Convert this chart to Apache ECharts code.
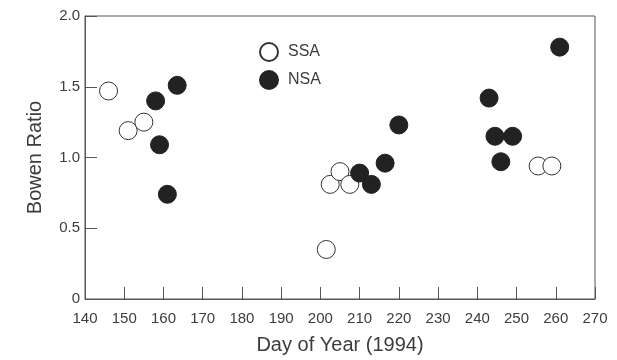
<!DOCTYPE html>
<html>
<head>
<meta charset="utf-8">
<script src="https://cdn.jsdelivr.net/npm/echarts@6/dist/echarts.min.js"></script>
<style>
  html, body { margin: 0; padding: 0; background: #fff; }
  #chart { width: 617px; height: 360px; }
</style>
</head>
<body>
<div id="chart"></div>
<script>
// day of year / bowen ratio
const ssaDays = [146, 151, 155, 201.5, 202.5, 205, 207.5, 255.5, 259]
const ssaRatio = [1.47, 1.19, 1.25, 0.35, 0.81, 0.90, 0.81, 0.94, 0.94]
const nsaDays = [158, 159, 161, 163.5, 210, 213, 216.5, 220, 243, 244.5, 249, 246, 261]
const nsaRatio = [1.40, 1.09, 0.74, 1.51, 0.89, 0.81, 0.96, 1.23, 1.42, 1.15, 1.15, 0.97, 1.78]

const toPairs = (xs, ys) => xs.map((x, i) => [x, ys[i]])

const ink = '#3c3c3c'
const lineCol = '#555'
const font = "'Liberation Sans', Arial, sans-serif"

const chart = echarts.init(document.getElementById('chart'), null, { renderer: 'canvas' })

chart.setOption({
  backgroundColor: '#fff',
  animation: false,
  textStyle: { fontFamily: font },
  grid: {
    left: 85,
    right: 22,
    top: 16,
    bottom: 59,
    show: true,
    borderColor: lineCol,
    borderWidth: 1
  },
  legend: {
    orient: 'vertical',
    left: 254,
    top: 37,
    itemWidth: 18,
    itemHeight: 18,
    itemGap: 8,
    textStyle: { color: ink, fontSize: 16, fontFamily: font, padding: [0, 0, 0, 5] },
    data: ['SSA', 'NSA']
  },
  xAxis: {
    type: 'value',
    min: 140,
    max: 270,
    interval: 10,
    name: 'Day of Year (1994)',
    nameLocation: 'middle',
    nameGap: 36,
    nameTextStyle: { color: ink, fontSize: 20 },
    axisLine: { lineStyle: { color: lineCol } },
    axisTick: { inside: true, length: 12, lineStyle: { color: lineCol } },
    axisLabel: { color: ink, fontSize: 15, margin: 12 },
    splitLine: { show: false }
  },
  yAxis: {
    type: 'value',
    min: 0,
    max: 2,
    interval: 0.5,
    name: 'Bowen Ratio',
    nameLocation: 'middle',
    nameGap: 40,
    nameTextStyle: { color: ink, fontSize: 20 },
    axisLine: { show: true, lineStyle: { color: lineCol } },
    axisTick: { show: true, inside: true, length: 12, lineStyle: { color: lineCol } },
    axisLabel: {
      color: ink,
      fontSize: 15,
      margin: 5,
      formatter: (v) => v === 0 ? '0' : v.toFixed(1)
    },
    splitLine: { show: false }
  },
  series: [
    {
      name: 'SSA',
      type: 'scatter',
      symbol: 'circle',
      symbolSize: 18,
      data: toPairs(ssaDays, ssaRatio),
      itemStyle: { color: '#fff', borderColor: '#333', borderWidth: 1, opacity: 1 },
      z: 2
    },
    {
      name: 'NSA',
      type: 'scatter',
      symbol: 'circle',
      symbolSize: 18,
      data: toPairs(nsaDays, nsaRatio),
      itemStyle: { color: '#222', borderColor: '#222', borderWidth: 1, opacity: 1 },
      z: 3
    }
  ]
})
</script>
</body>
</html>
